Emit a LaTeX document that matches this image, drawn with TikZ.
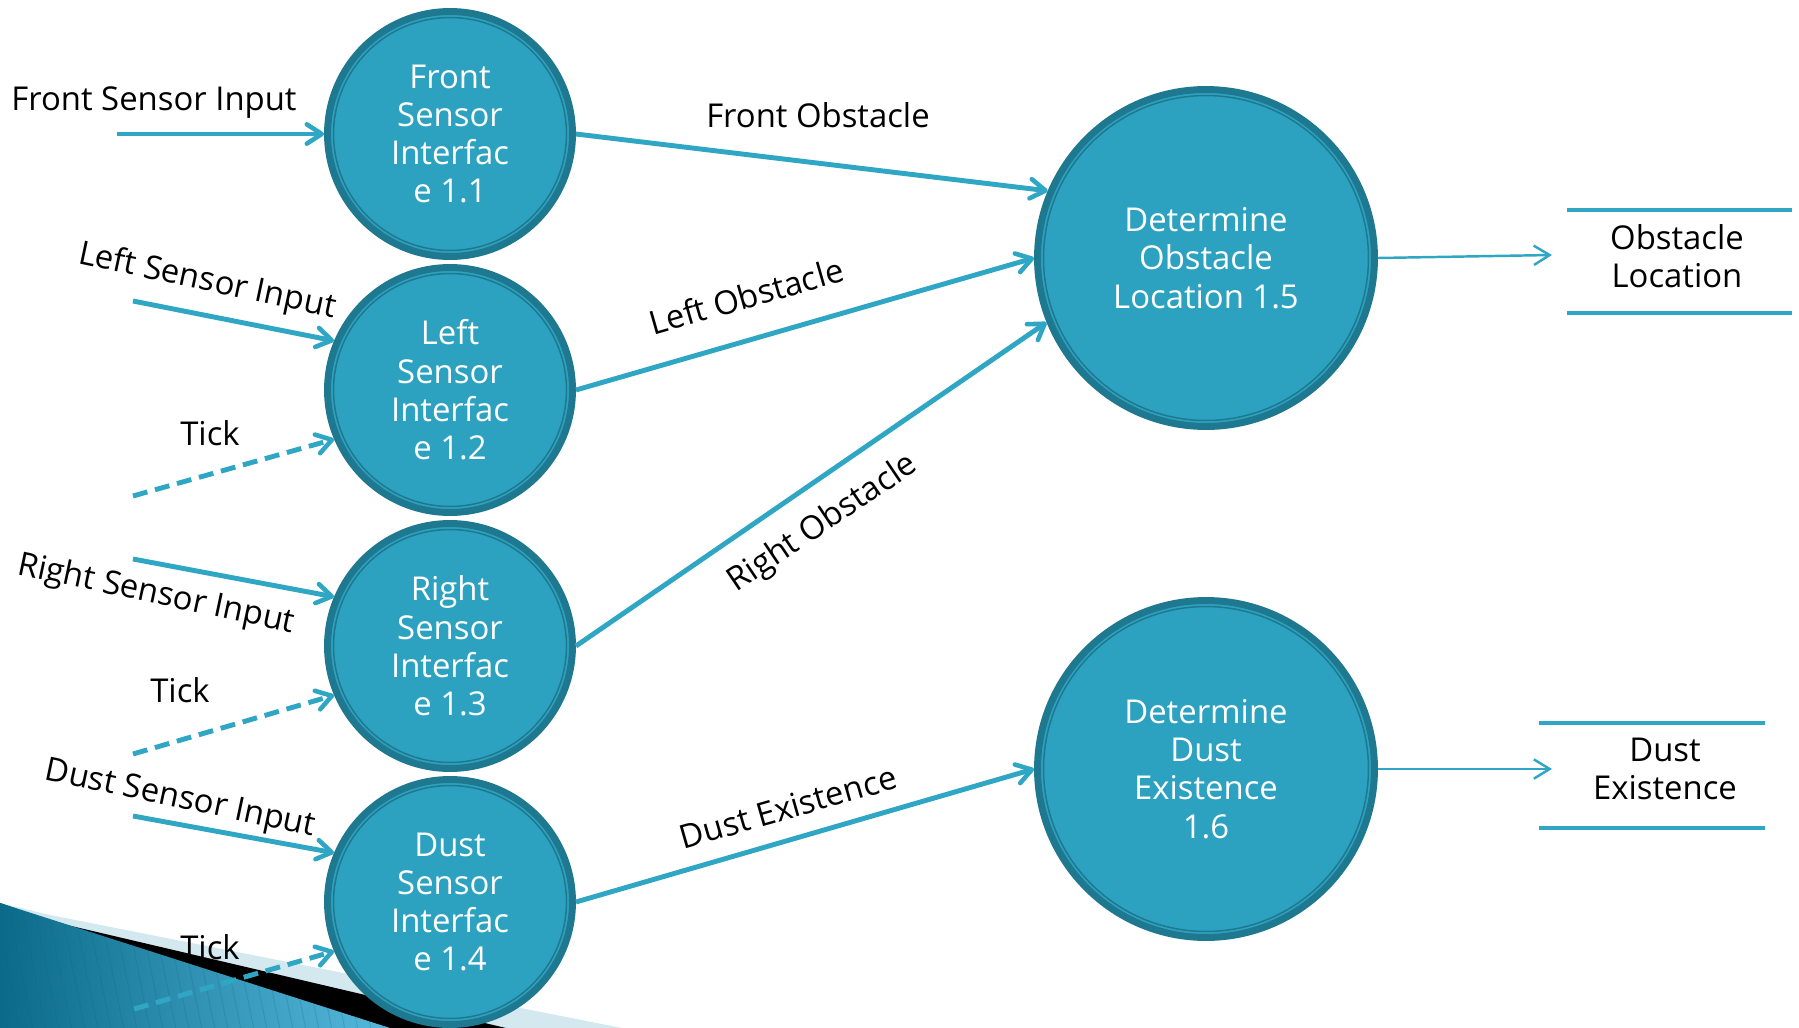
\documentclass[tikz,border=0pt]{standalone}
\usepackage{fontspec}
\setmainfont{Open Sans}
\usetikzlibrary{arrows.meta}

\definecolor{procfill}{HTML}{2DA2C0}
\definecolor{procring}{HTML}{1E7990}
\definecolor{flowcol}{HTML}{2FA6C4}
\definecolor{bandlight}{HTML}{D3E8EF}
\definecolor{swooshdark}{HTML}{0B6A89}
\definecolor{swooshlight}{HTML}{58BBDF}

\begin{document}
\begin{tikzpicture}[x=0.02cm, y=-0.02cm,
  font=\fontsize{18.7}{21.8}\selectfont,
  proc/.style={circle, fill=procfill, draw=procring, line width=3.97pt,
    text=white, align=center, inner sep=0pt, minimum size=#1},
  smallproc/.style={proc=4.9cm,
    path picture={\draw[procring, line width=0.85pt]
      (path picture bounding box.center) circle[radius=2.33cm];}},
  bigproc/.style={proc=6.74cm,
    path picture={\draw[procring, line width=0.85pt]
      (path picture bounding box.center) circle[radius=3.25cm];}},
  flow/.style={draw=flowcol, line width=2.8pt,
    -{Straight Barb[length=8.5pt, width=11pt, line width=2.6pt, round]}},
  tickflow/.style={flow, dash pattern=on 8.5pt off 4.5pt},
  thinflow/.style={draw=flowcol, line width=1.4pt,
    -{Straight Barb[length=9pt, width=11pt, line width=1.4pt]}},
  storeline/.style={draw=flowcol, line width=2.8pt},
  lbl/.style={text=black, inner sep=1pt},
  storetext/.style={text=black, align=center, inner sep=1pt}
]
\useasboundingbox (0,0) rectangle (1799,1028);

% corner swoosh
\fill[bandlight] (0,903) -- (50,915) -- (622,1028) -- (0,1028) -- cycle;
\fill[black] (0,903) -- (50,921) -- (506,1028) -- (0,1028) -- cycle;
\begin{scope}
  \clip (0,903) -- (390,1028) -- (0,1028) -- cycle;
  \shade[left color=swooshdark, right color=swooshlight]
    (0,880) rectangle (400,1028);
  \foreach \i in {-60,-47,...,420}
    \draw[swooshdark, opacity=0.22, line width=0.6pt] (\i,890) -- (\i+30,1040);
\end{scope}

% processes
\node[smallproc] (fsi) at (450,134) {Front\\Sensor\\Interfac\\e 1.1};
\node[smallproc] (lsi) at (450,390) {Left\\Sensor\\Interfac\\e 1.2};
\node[smallproc] (rsi) at (450,646) {Right\\Sensor\\Interfac\\e 1.3};
\node[smallproc] (dsi) at (450,902) {Dust\\Sensor\\Interfac\\e 1.4};
\node[bigproc] (dol) at (1206,258) {Determine\\Obstacle\\Location 1.5};
\node[bigproc] (dde) at (1206,769) {Determine\\Dust\\Existence\\1.6};

% data stores
\node[storetext] (sol) at (1677,256) {Obstacle\\Location};
\draw[storeline] (1567,210) -- (1792,210);
\draw[storeline] (1567,313) -- (1792,313);
\node[storetext] (sde) at (1665,769) {Dust\\Existence};
\draw[storeline] (1539,723) -- (1765,723);
\draw[storeline] (1539,828) -- (1765,828);

% external inputs
\coordinate (fsiIn) at (117,134);
\coordinate (lsiIn) at (133,301);
\coordinate (lsiTk) at (133,496);
\coordinate (rsiIn) at (133,559);
\coordinate (rsiTk) at (133,754);
\coordinate (dsiIn) at (133,816);
\coordinate (dsiTk) at (134,1009);

\draw[flow] (fsiIn) -- (fsi.west);
\draw[flow] (lsiIn) -- (lsi.157);
\draw[tickflow] (lsiTk) -- (lsi.203);
\draw[flow] (rsiIn) -- (rsi.157);
\draw[tickflow] (rsiTk) -- (rsi.203);
\draw[flow] (dsiIn) -- (dsi.157);
\draw[tickflow] (dsiTk) -- (dsi.203);

\node[lbl] (lfsi) at (154,103) {Front Sensor Input};
\node[lbl, rotate=-12] (llsi) at (207,282) {Left Sensor Input};
\node[lbl] (tk1) at (210,433) {Tick};
\node[lbl, rotate=-12] (lrsi) at (156,595) {Right Sensor Input};
\node[lbl] (tk2) at (180,690) {Tick};
\node[lbl, rotate=-12] (ldsi) at (180,800) {Dust Sensor Input};
\node[lbl] (tk3) at (210,947) {Tick};

% internal flows
\draw[flow] (fsi.east) -- (dol.157);
\draw[flow] (lsi.east) -- (dol.west);
\draw[flow] (rsi.east) -- (dol.202);
\draw[flow] (dsi.east) -- (dde.west);

\node[lbl] (lfo) at (818,115) {Front Obstacle};
\node[lbl, rotate=16] (llo) at (746,296) {Left Obstacle};
\node[lbl, rotate=34] (lro) at (823,524) {Right Obstacle};
\node[lbl, rotate=16] (lde) at (788,807) {Dust Existence};

% outputs to stores
\coordinate (solIn) at (1552,255);
\coordinate (sdeIn) at (1552,769);
\draw[thinflow] (dol.east) -- (solIn);
\draw[thinflow] (dde.east) -- (sdeIn);
\end{tikzpicture}
\end{document}
